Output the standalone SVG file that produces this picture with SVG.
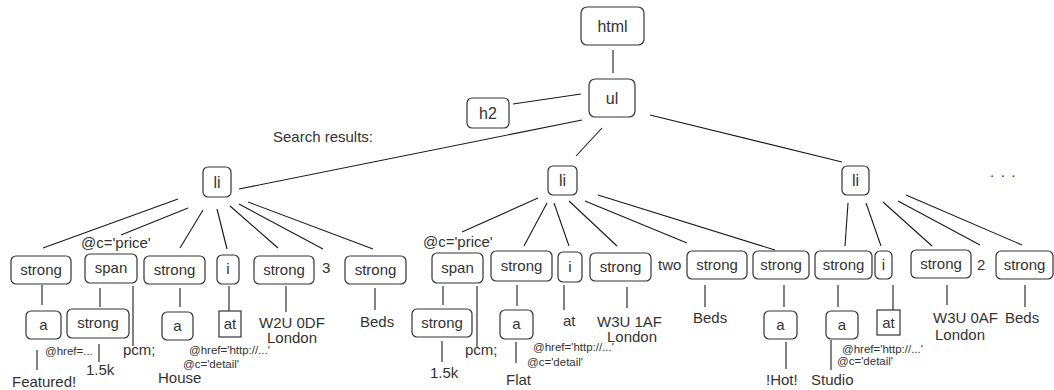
<svg xmlns="http://www.w3.org/2000/svg" width="1054" height="390" viewBox="0 0 1054 390">
<style>
.n{fill:#fff;stroke:#333;stroke-width:1.2}
.sq{fill:#fff;stroke:#333;stroke-width:1.2}
.e line{stroke:#1a1a1a;stroke-width:1.1}
text{font-family:"Liberation Sans",Arial,sans-serif;font-size:15px;fill:#333}
.c{text-anchor:middle}
.b{font-size:16px}
.s{font-size:11.5px}
</style>
<rect width="1054" height="390" fill="#fff"/>
<g class="e" id="connectors">
<line x1="613" y1="50" x2="613" y2="73"/>
<line x1="581" y1="94" x2="513" y2="104"/>
<line x1="582" y1="120" x2="239" y2="189"/>
<line x1="602" y1="128" x2="576" y2="156"/>
<line x1="650" y1="115" x2="842" y2="162"/>
<line x1="178" y1="199" x2="43" y2="248"/>
<line x1="188" y1="208" x2="121" y2="235"/>
<line x1="203" y1="210" x2="180" y2="248"/>
<line x1="217" y1="209" x2="227" y2="249"/>
<line x1="230" y1="206" x2="278" y2="248"/>
<line x1="239" y1="204" x2="323" y2="249"/>
<line x1="248" y1="202" x2="373" y2="249"/>
<line x1="42" y1="285" x2="42" y2="305"/>
<line x1="37" y1="350" x2="37" y2="370"/>
<line x1="100" y1="288" x2="100" y2="307"/>
<line x1="99" y1="344" x2="99" y2="362"/>
<line x1="133" y1="286" x2="133" y2="346"/>
<line x1="180" y1="288" x2="180" y2="307"/>
<line x1="229" y1="286" x2="229" y2="311"/>
<line x1="286" y1="286" x2="286" y2="312"/>
<line x1="375" y1="288" x2="375" y2="310"/>
<line x1="538" y1="198" x2="462" y2="232"/>
<line x1="547" y1="203" x2="524" y2="246"/>
<line x1="554" y1="203" x2="569" y2="246"/>
<line x1="569" y1="201" x2="617" y2="246"/>
<line x1="585" y1="201" x2="687" y2="243"/>
<line x1="598" y1="195" x2="775" y2="250"/>
<line x1="443" y1="286" x2="443" y2="305"/>
<line x1="442" y1="341" x2="442" y2="362"/>
<line x1="477" y1="286" x2="477" y2="347"/>
<line x1="517" y1="285" x2="517" y2="306"/>
<line x1="516" y1="342" x2="516" y2="363"/>
<line x1="564" y1="285" x2="564" y2="310"/>
<line x1="627" y1="287" x2="627" y2="308"/>
<line x1="705" y1="285" x2="705" y2="307"/>
<line x1="784" y1="285" x2="784" y2="307"/>
<line x1="786" y1="342" x2="786" y2="369"/>
<line x1="848" y1="203" x2="845" y2="246"/>
<line x1="866" y1="203" x2="881" y2="246"/>
<line x1="883" y1="202" x2="932" y2="246"/>
<line x1="898" y1="201" x2="980" y2="245"/>
<line x1="906" y1="195" x2="1022" y2="245"/>
<line x1="838" y1="285" x2="838" y2="307"/>
<line x1="831" y1="340" x2="831" y2="370"/>
<line x1="893" y1="285" x2="893" y2="310"/>
<line x1="947" y1="285" x2="947" y2="305"/>
<line x1="1025" y1="285" x2="1025" y2="307"/>
</g>
<g id="html"><rect class="n" x="581" y="7" width="63" height="38" rx="6"/><text class="c b" x="612.5" y="32">html</text></g>
<g id="ul"><rect class="n" x="589" y="79" width="46" height="38" rx="6"/><text class="c b" x="612" y="104">ul</text></g>
<g id="h2"><rect class="n" x="467" y="98" width="42" height="30" rx="5"/><text class="c b" x="488" y="119">h2</text></g>
<g id="search"><text x="273" y="142">Search results:</text></g>
<g id="li1"><rect class="n" x="203" y="167" width="28" height="30" rx="5"/><text class="c b" x="217" y="188">li</text></g>
<g id="li2"><rect class="n" x="548" y="166" width="29" height="29" rx="5"/><text class="c b" x="562.5" y="186">li</text></g>
<g id="li3"><rect class="n" x="842" y="166" width="27" height="29" rx="5"/><text class="c b" x="855.5" y="186">li</text></g>
<g id="more"><text x="990" y="177" style="letter-spacing:6.5px">...</text></g>

<g id="l1-strong1"><rect class="n" x="11" y="256" width="60" height="28" rx="5"/><text class="c" x="41" y="275">strong</text></g>
<g id="l1-span"><rect class="n" x="85" y="254" width="52" height="29" rx="5"/><text class="c" x="111" y="273">span</text><text x="81" y="248">@c='price'</text></g>
<g id="l1-strong2"><rect class="n" x="144" y="256" width="61" height="28" rx="5"/><text class="c" x="174.5" y="275">strong</text></g>
<g id="l1-i"><rect class="n" x="217" y="255" width="22" height="29" rx="5"/><text class="c" x="228" y="274">i</text></g>
<g id="l1-strong3"><rect class="n" x="254" y="256" width="60" height="28" rx="5"/><text class="c" x="284" y="275">strong</text></g>
<g id="l1-three"><text x="322" y="273">3</text></g>
<g id="l1-strong4"><rect class="n" x="345" y="256" width="61" height="28" rx="5"/><text class="c" x="375.5" y="275">strong</text></g>
<g id="l1-a1"><rect class="n" x="26" y="311" width="35" height="28" rx="5"/><text class="c" x="43.5" y="330">a</text><text class="s" x="45" y="355">@href=...</text></g>
<g id="l1-featured"><text x="12" y="387">Featured!</text></g>
<g id="l1-strongP"><rect class="n" x="67" y="309" width="62" height="29" rx="5"/><text class="c" x="98" y="328">strong</text></g>
<g id="l1-15k"><text x="86" y="375">1.5k</text></g>
<g id="l1-pcm"><text x="123" y="355">pcm;</text></g>
<g id="l1-a2"><rect class="n" x="162" y="312" width="31" height="28" rx="5"/><text class="c" x="177.5" y="331">a</text></g>
<g id="l1-house"><text x="158" y="383">House</text></g>
<g id="l1-at"><rect class="sq" x="219" y="311" width="22" height="26"/><text class="c" x="230" y="329">at</text><text class="s" x="189" y="354">@href='http://...'</text><text class="s" x="183" y="368">@c='detail'</text></g>
<g id="l1-w2u"><text x="259" y="328">W2U 0DF</text><text x="267" y="343">London</text></g>
<g id="l1-beds"><text x="360" y="327">Beds</text></g>

<g id="l2-span"><rect class="n" x="432" y="253" width="51" height="30" rx="5"/><text class="c" x="457.5" y="273">span</text><text x="423" y="247">@c='price'</text></g>
<g id="l2-strongP"><rect class="n" x="412" y="309" width="60" height="28" rx="5"/><text class="c" x="442" y="328">strong</text></g>
<g id="l2-15k"><text x="430" y="378">1.5k</text></g>
<g id="l2-pcm"><text x="465" y="355">pcm;</text></g>
<g id="l2-strong5"><rect class="n" x="491" y="251" width="61" height="30" rx="5"/><text class="c" x="521.5" y="271">strong</text></g>
<g id="l2-a3"><rect class="n" x="500" y="310" width="33" height="29" rx="5"/><text class="c" x="516.5" y="329">a</text><text class="s" x="533" y="351">@href='http://...'</text><text class="s" x="527" y="366">@c='detail'</text></g>
<g id="l2-flat"><text x="506" y="385">Flat</text></g>
<g id="l2-i"><rect class="n" x="558" y="252" width="24" height="30" rx="5"/><text class="c" x="570" y="272">i</text></g>
<g id="l2-at"><text x="563" y="326">at</text></g>
<g id="l2-strong6"><rect class="n" x="590" y="253" width="61" height="28" rx="5"/><text class="c" x="620.5" y="272">strong</text></g>
<g id="l2-w3u"><text x="597" y="327">W3U 1AF</text><text x="607" y="342">London</text></g>
<g id="l2-two"><text x="658" y="270">two</text></g>
<g id="l2-strong7"><rect class="n" x="687" y="251" width="60" height="28" rx="5"/><text class="c" x="717" y="270">strong</text></g>
<g id="l2-beds"><text x="693" y="323">Beds</text></g>
<g id="l2-strong8"><rect class="n" x="753" y="251" width="56" height="28" rx="5"/><text class="c" x="781" y="270">strong</text></g>
<g id="l2-a4"><rect class="n" x="764" y="311" width="33" height="28" rx="5"/><text class="c" x="780.5" y="330">a</text></g>
<g id="l2-hot"><text x="766" y="385">!Hot!</text></g>

<g id="l3-strong9"><rect class="n" x="815" y="251" width="57" height="28" rx="5"/><text class="c" x="843.5" y="270">strong</text></g>
<g id="l3-a5"><rect class="n" x="826" y="311" width="32" height="28" rx="5"/><text class="c" x="842" y="330">a</text><text class="s" x="842" y="353">@href='http://...'</text><text class="s" x="837" y="365">@c='detail'</text></g>
<g id="l3-studio"><text x="811" y="385">Studio</text></g>
<g id="l3-i"><rect class="n" x="875" y="251" width="17" height="28" rx="5"/><text class="c" x="883.5" y="270">i</text></g>
<g id="l3-at"><rect class="sq" x="877" y="310" width="23" height="25"/><text class="c" x="888.5" y="328">at</text></g>
<g id="l3-strong10"><rect class="n" x="911" y="250" width="60" height="28" rx="5"/><text class="c" x="941" y="269">strong</text></g>
<g id="l3-w3u"><text x="933" y="323">W3U 0AF</text><text x="935" y="340">London</text></g>
<g id="l3-two"><text x="977" y="270">2</text></g>
<g id="l3-strong11"><rect class="n" x="996" y="251" width="57" height="28" rx="5"/><text class="c" x="1024.5" y="270">strong</text></g>
<g id="l3-beds"><text x="1005" y="323">Beds</text></g>
</svg>
